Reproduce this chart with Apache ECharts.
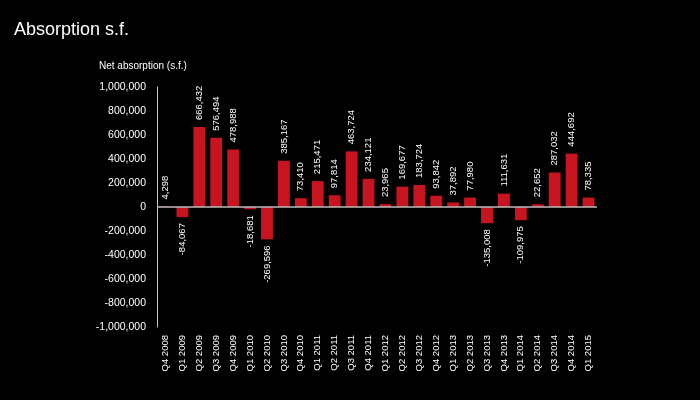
<!DOCTYPE html>
<html>
<head>
<meta charset="utf-8">
<script src="https://cdn.jsdelivr.net/npm/echarts@6/dist/echarts.min.js"></script>
<style>
  html, body { margin: 0; padding: 0; background: #000; }
  #main { width: 700px; height: 400px; }
</style>
</head>
<body>
<div id="main"></div>
<script>
var quarters = ['Q4 2008', 'Q1 2009', 'Q2 2009', 'Q3 2009', 'Q4 2009', 'Q1 2010', 'Q2 2010', 'Q3 2010', 'Q4 2010',
  'Q1 2011', 'Q2 2011', 'Q3 2011', 'Q4 2011', 'Q1 2012', 'Q2 2012', 'Q3 2012', 'Q4 2012',
  'Q1 2013', 'Q2 2013', 'Q3 2013', 'Q4 2013', 'Q1 2014', 'Q2 2014', 'Q3 2014', 'Q4 2014', 'Q1 2015'];
var netAbsorption = [4298, -84067, 666432, 576494, 478988, -18681, -269596, 385167, 73410,
  215471, 97814, 463724, 234121, 23965, 169677, 183724, 93842,
  37892, 77980, -135008, 111631, -109975, 22652, 287032, 444692, 78335];
var yMin = -1000000;
var yMax = 1000000;
var yStep = 200000;

var font = 'Liberation Sans, Arial, sans-serif';

function fmt(v) {
  return Number(v).toLocaleString('en-US');
}

// positive labels above the bar, negative ones below
var barData = netAbsorption.map(function (v) {
  return {
    value: v,
    label: v >= 0
      ? { position: 'top', align: 'left', distance: 7 }
      : { position: 'bottom', align: 'right', distance: 6 }
  };
});

var chart = echarts.init(document.getElementById('main'));

var option = {
  backgroundColor: '#000',
  animation: false,
  title: [
    {
      text: 'Absorption s.f.',
      left: 14,
      top: 21,
      padding: 0,
      textStyle: { color: '#fff', fontSize: 18, fontWeight: 'normal', fontFamily: font }
    },
    {
      text: 'Net absorption (s.f.)',
      left: 99,
      top: 61,
      padding: 0,
      textStyle: { color: '#fff', fontSize: 10, fontWeight: 'normal', fontFamily: font }
    }
  ],
  grid: {
    left: 157,
    right: 103,
    top: 87,
    bottom: 73,
    containLabel: false
  },
  xAxis: {
    type: 'category',
    data: quarters,
    axisLine: { show: false },
    axisTick: { show: false },
    axisLabel: {
      color: '#fff',
      fontSize: 9.5,
      fontFamily: font,
      rotate: 90,
      margin: 8,
      interval: 0
    }
  },
  yAxis: {
    type: 'value',
    min: yMin,
    max: yMax,
    interval: yStep,
    splitLine: { show: false },
    axisTick: { show: false },
    axisLine: { show: true, lineStyle: { color: '#ccc', width: 1 } },
    axisLabel: {
      color: '#fff',
      fontSize: 10.5,
      fontFamily: font,
      margin: 11,
      formatter: fmt
    }
  },
  series: [
    {
      name: 'Net absorption',
      type: 'bar',
      barWidth: '70%',
      data: barData,
      itemStyle: { color: '#c8141e' },
      label: {
        show: true,
        rotate: 90,
        verticalAlign: 'middle',
        color: '#fff',
        fontSize: 9.5,
        fontFamily: font,
        formatter: function (p) { return fmt(p.value); }
      },
      markLine: {
        silent: true,
        symbol: 'none',
        label: { show: false },
        lineStyle: { color: '#bbb', width: 1.5, type: 'solid' },
        data: [{ yAxis: 0 }]
      }
    }
  ]
};

chart.setOption(option);
</script>
</body>
</html>
